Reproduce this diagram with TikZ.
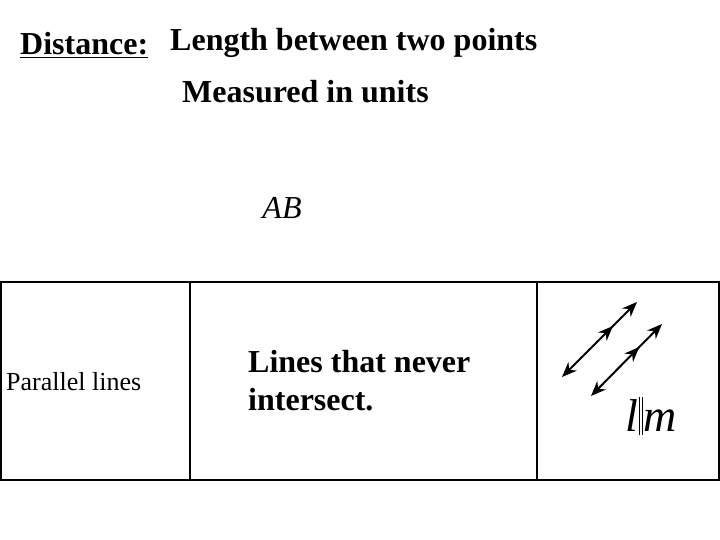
\documentclass[tikz,border=0pt]{standalone}
\usepackage{fontspec}
\setmainfont{Liberation Serif}
\usetikzlibrary{arrows.meta,decorations.markings}
\begin{document}
\begin{tikzpicture}[x=1pt,y=-1pt,
  big/.style={font=\fontsize{32}{38}\selectfont\bfseries,anchor=west,inner sep=0},
  cell/.style={draw,line width=1.5pt},
  dbl/.style={line width=2pt,{Stealth[length=15pt,width=12pt]}-{Stealth[length=15pt,width=12pt]},
    postaction={decorate},decoration={markings,mark=at position 0.68 with {\arrow{Stealth[length=15pt,width=12pt]}}}}]
\useasboundingbox (0,0) rectangle (720,540);
\node[big] (dist) at (20,45) {\underline{Distance:}};
\node[big] (len) at (170,43) {Length between two points};
\node[big] (meas) at (182,92) {Measured in units};
\node[font=\fontsize{32}{38}\selectfont\itshape,inner sep=0] (ab) at (282,208) {AB};
\draw[cell] (1,282) rectangle (719,480);
\draw[cell] (190,282) -- (190,480);
\draw[cell] (537,282) -- (537,480);
\node[font=\fontsize{26}{30}\selectfont,anchor=west,inner sep=0] (pl) at (6,382) {Parallel lines};
\node[big,align=left] (def) at (248,381) {Lines that never\\intersect.};
\coordinate (a1) at (562,377); \coordinate (a2) at (637,302);
\coordinate (b1) at (591,396); \coordinate (b2) at (662,324);
\draw[dbl] (a1) -- (a2);
\draw[dbl] (b1) -- (b2);
\node[font=\fontsize{46}{52}\selectfont,inner sep=0] (lm) at (651,416) {\textit{l}\kern1pt\rule[-4pt]{1pt}{38pt}\kern2pt\rule[-4pt]{1pt}{38pt}\kern1pt\textit{m}};
\end{tikzpicture}
\end{document}
